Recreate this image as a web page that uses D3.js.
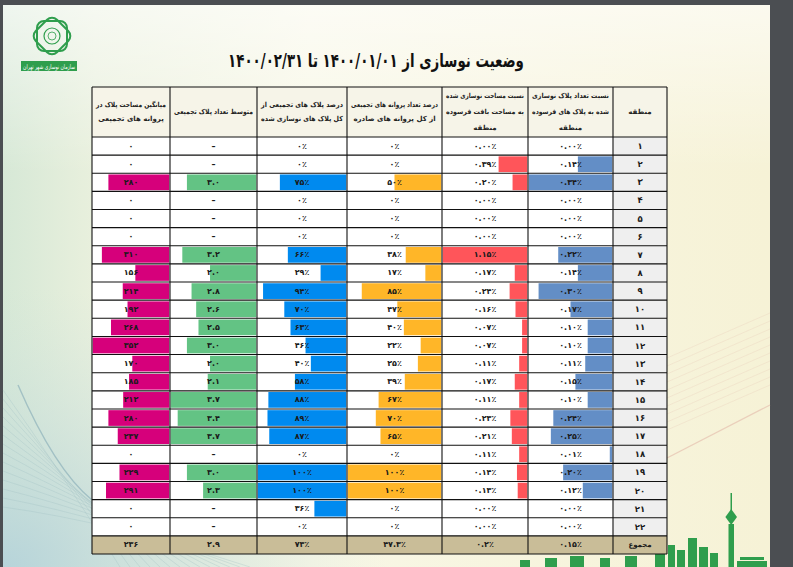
<!DOCTYPE html>
<html>
<head>
<meta charset="utf-8">
<script src="https://cdn.jsdelivr.net/npm/d3@7"></script>
<style>
  html, body { margin: 0; padding: 0; background: #4b4e52; }
  svg { display: block; }
  text { font-family: "DejaVu Sans", sans-serif; }
</style>
</head>
<body>
<div id="chart"></div>
<script>
// chart data (regions 1..22, then total row)
const regions = d3.range(1, 23);
const areaAvg = [0, 0, 280, 0, 0, 0, 310, 156, 214, 192, 268, 352, 170, 185, 212, 280, 237, 0, 229, 291, 0, 0];
const plaqueAvg = [null, null, 3.0, null, null, null, 3.2, 2.0, 2.8, 2.6, 2.5, 3.0, 2.0, 2.1, 3.7, 3.4, 3.7, null, 3.0, 2.3, null, null];
const plaquePct = [0, 0, 75, 0, 0, 0, 66, 29, 94, 70, 63, 46, 40, 58, 88, 89, 87, 0, 100, 100, 36, 0];
const permitPct = [0, 0, 50, 0, 0, 0, 38, 17, 85, 47, 40, 22, 25, 39, 67, 70, 65, 0, 100, 100, 0, 0];
const areaRatio = [0, 0.39, 0.20, 0, 0, 0, 1.15, 0.17, 0.24, 0.16, 0.07, 0.07, 0.11, 0.17, 0.11, 0.23, 0.21, 0.11, 0.14, 0.13, 0, 0];
const plaqueRatio = [0, 0.14, 0.34, 0, 0, 0, 0.22, 0.14, 0.30, 0.17, 0.10, 0.10, 0.11, 0.15, 0.10, 0.24, 0.25, 0.01, 0.20, 0.12, 0, 0];
const totals = ["236", "2.9", "73%", "47.3%", "0.2%", "0.15%"];
const totalLabel = "مجموع";

const headers = [
  ["میانگین مساحت پلاک در", "پروانه های تجمیعی"],
  ["متوسط تعداد پلاک تجمیعی"],
  ["درصد پلاک های تجمیعی از", "کل پلاک های نوسازی شده"],
  ["درصد تعداد پروانه های تجمیعی", "از کل پروانه های صادره"],
  ["نسبت مساحت نوسازی شده", "به مساحت بافت فرسوده", "منطقه"],
  ["نسبت تعداد پلاک نوسازی", "شده به پلاک های فرسوده", "منطقه"],
  ["منطقه"]
];
const title = "وضعیت نوسازی از ۱۴۰۰/۰۱/۰۱ تا ۱۴۰۰/۰۲/۳۱";

const W = 793, H = 567;
const fa = s => String(s).replace(/\d/g, d => "۰۱۲۳۴۵۶۷۸۹"[d]).replace(/%/g, "٪");

// text squeezed horizontally (keeps glyph height) so it fits maxW
function squeezed(parent, x, y, str, size, maxW, attrs) {
  const g = parent.append("g").attr("transform", `translate(${x},${y})`);
  const t = g.append("text")
    .attr("text-anchor", "middle").attr("dominant-baseline", "central")
    .attr("direction", "rtl").attr("font-size", size).attr("font-weight", "bold")
    .text(str);
  Object.entries(attrs || {}).forEach(([k, v]) => t.attr(k, v));
  const w = t.node().getComputedTextLength();
  const s = w > maxW ? maxW / w : 1;
  g.attr("transform", `translate(${x},${y}) scale(${s},1)`);
  return t;
}

// table layout
const colEdges = [92, 170, 257, 347, 442, 528, 613, 667];
const headTop = 87, headBottom = 137, tableBottom = 554;

const columns = [
  { values: areaAvg, color: "#D6007B", fmt: v => fa(d3.format("d")(v)) },
  { values: plaqueAvg, color: "#63C384", fmt: v => v == null ? "–" : fa(d3.format(".1f")(v)) },
  { values: plaquePct, color: "#008AEF", fmt: v => fa(v + "%") },
  { values: permitPct, color: "#FFB628", fmt: v => fa(v + "%") },
  { values: areaRatio, color: "#FF555A", fmt: v => fa(d3.format(".2f")(v) + "%") },
  { values: plaqueRatio, color: "#638EC6", fmt: v => fa(d3.format(".2f")(v) + "%") }
];

const svg = d3.select("#chart").append("svg")
  .attr("width", W)
  .attr("height", H);

// page background
const defs = svg.append("defs");
const bg = defs.append("linearGradient").attr("id", "bg").attr("x1", 0).attr("x2", 1).attr("y1", 0).attr("y2", 0);
bg.append("stop").attr("offset", "0%").attr("stop-color", "#d6e8d6");
bg.append("stop").attr("offset", "12%").attr("stop-color", "#e9f0dd");
bg.append("stop").attr("offset", "40%").attr("stop-color", "#f8f7e6");
bg.append("stop").attr("offset", "100%").attr("stop-color", "#f6f2d6");
const glow = defs.append("radialGradient").attr("id", "glow").attr("cx", 0).attr("cy", 1).attr("r", 0.5);
glow.append("stop").attr("offset", "0%").attr("stop-color", "#b5d3da").attr("stop-opacity", 0.95);
glow.append("stop").attr("offset", "100%").attr("stop-color", "#cfe3dc").attr("stop-opacity", 0);
const topFade = defs.append("linearGradient").attr("id", "topw").attr("x1", 0).attr("x2", 0).attr("y1", 0).attr("y2", 1);
topFade.append("stop").attr("offset", "0%").attr("stop-color", "#ffffff").attr("stop-opacity", 0.6);
topFade.append("stop").attr("offset", "30%").attr("stop-color", "#ffffff").attr("stop-opacity", 0);

svg.append("rect").attr("x", 0).attr("y", 0).attr("width", W).attr("height", H).attr("fill", "#4b4e52");
svg.append("rect").attr("x", 3).attr("y", 5).attr("width", 767).attr("height", H - 5).attr("fill", "url(#bg)");
svg.append("rect").attr("x", 3).attr("y", 5).attr("width", 767).attr("height", H - 5).attr("fill", "url(#glow)");
svg.append("rect").attr("x", 3).attr("y", 5).attr("width", 767).attr("height", H - 5).attr("fill", "url(#topw)");

// decorative curves bottom-left
const deco = svg.append("g").attr("fill", "none").attr("stroke", "#9fbfc4").attr("stroke-opacity", 0.45).attr("stroke-width", 0.7);
d3.range(14).forEach(i => {
  const p = d3.path();
  p.moveTo(3, 390 + i * 9);
  p.quadraticCurveTo(60 + i * 4, 470 + i * 4, 120 + i * 10, 567);
  deco.append("path").attr("d", p.toString());
});
const p0 = d3.path();
p0.moveTo(18, 385);
p0.quadraticCurveTo(55, 470, 92, 500);
deco.append("path").attr("d", p0.toString()).attr("stroke", "#8fb2bb").attr("stroke-width", 1.4).attr("stroke-opacity", 0.7);

// faint diagonal lines right
const deco2 = svg.append("g").attr("stroke", "#e3b8a8").attr("stroke-opacity", 0.35).attr("stroke-width", 0.6);
d3.range(10).forEach(i => {
  deco2.append("line").attr("x1", 667).attr("y1", 430 - i * 8).attr("x2", 770).attr("y2", 385 - i * 8);
});
deco2.append("line").attr("x1", 667).attr("y1", 458).attr("x2", 770).attr("y2", 405).attr("stroke-width", 1.3).attr("stroke-opacity", 0.6);

// skyline bottom-right
const sky = svg.append("g").attr("fill", "#2f9e4d");
sky.append("rect").attr("x", 730.5).attr("y", 493).attr("width", 1.5).attr("height", 25);
sky.append("path").attr("d", "M731.2,509 L737,517 L731.2,525 L725.4,517 Z");
sky.append("rect").attr("x", 728.5).attr("y", 524).attr("width", 5.5).attr("height", 43);
[[655, 552, 10, 15], [668, 545, 7, 22], [677, 550, 8, 17], [688, 538, 9, 29], [699, 547, 9, 20], [710, 553, 8, 14],
 [737, 561, 30, 6], [740, 557, 24, 3], [520, 560, 10, 7], [545, 558, 12, 9], [570, 556, 14, 11], [600, 558, 10, 9], [625, 556, 12, 11]]
  .forEach(b => sky.append("rect").attr("x", b[0]).attr("y", b[1]).attr("width", b[2]).attr("height", b[3]));

// logo
const logo = svg.append("g").attr("transform", "translate(52,36)");
[0, 45].forEach(a => logo.append("rect").attr("x", -15).attr("y", -15).attr("width", 30).attr("height", 30)
  .attr("fill", "none").attr("stroke", "#2f9e4d").attr("stroke-width", 2).attr("rx", 7)
  .attr("transform", `rotate(${a})`));
logo.append("circle").attr("r", 8).attr("fill", "none").attr("stroke", "#2f9e4d").attr("stroke-width", 1.2);
logo.append("circle").attr("r", 4).attr("fill", "none").attr("stroke", "#2f9e4d").attr("stroke-width", 0.8);
svg.append("rect").attr("x", 21).attr("y", 61).attr("width", 56).attr("height", 10).attr("fill", "#2f9e4d");
squeezed(svg, 49, 66.5, "سازمان نوسازی شهر تهران", 6.5, 52, { fill: "#ffffff", "font-weight": "normal" });

// title
squeezed(svg, 376, 61, title, 19, 296, { fill: "#111" });

// row scale
const y = d3.scaleBand().domain(d3.range(regions.length + 1)).range([headBottom, tableBottom]);

// header cells
const head = svg.append("g");
headers.forEach((lines, c) => {
  const x0 = colEdges[c], x1 = colEdges[c + 1];
  head.append("rect").attr("x", x0).attr("y", headTop).attr("width", x1 - x0).attr("height", headBottom - headTop)
    .attr("fill", "#f6f4e8");
  const lh = lines.length > 2 ? 16 : 14;
  const cy = (headTop + headBottom) / 2 - (lines.length - 1) * lh / 2;
  lines.forEach((t, i) => squeezed(head, (x0 + x1) / 2, cy + i * lh, t, 7, x1 - x0 - 8, { fill: "#222" }));
});

// body cells
const body = svg.append("g");
columns.forEach((col, c) => {
  const x0 = colEdges[c], x1 = colEdges[c + 1];
  const len = d3.scaleLinear().domain([0, d3.max(col.values, v => v || 0)]).range([0, x1 - x0 - 1.5]);
  const g = body.append("g");
  g.selectAll("rect.cell").data(col.values).enter().append("rect")
    .attr("class", "cell")
    .attr("x", x0).attr("y", (d, i) => y(i))
    .attr("width", x1 - x0).attr("height", y.bandwidth())
    .attr("fill", "#ffffff");
  g.selectAll("rect.bar").data(col.values).enter().append("rect")
    .attr("class", "bar")
    .attr("x", d => x1 - 0.75 - len(d || 0))
    .attr("y", (d, i) => y(i) + 1.2)
    .attr("width", d => len(d || 0))
    .attr("height", y.bandwidth() - 2.4)
    .attr("fill", col.color);
  g.selectAll("text").data(col.values).enter().append("text")
    .attr("x", (x0 + x1) / 2)
    .attr("y", (d, i) => y(i) + y.bandwidth() / 2)
    .attr("text-anchor", "middle").attr("dominant-baseline", "central")
    .attr("font-size", 8).attr("font-weight", "bold").attr("fill", "#1a1a1a")
    .text(col.fmt);
  // total row
  const ty = y(regions.length);
  g.append("rect").attr("x", x0).attr("y", ty).attr("width", x1 - x0).attr("height", y.bandwidth()).attr("fill", "#c9bd98");
  g.append("text").attr("x", (x0 + x1) / 2).attr("y", ty + y.bandwidth() / 2)
    .attr("text-anchor", "middle").attr("dominant-baseline", "central")
    .attr("font-size", 8).attr("font-weight", "bold").attr("fill", "#1a1a1a")
    .text(fa(totals[c]));
});

// region label column
const lx0 = colEdges[6], lx1 = colEdges[7];
const lab = body.append("g");
lab.selectAll("rect").data(regions).enter().append("rect")
  .attr("x", lx0).attr("y", (d, i) => y(i)).attr("width", lx1 - lx0).attr("height", y.bandwidth())
  .attr("fill", "#efefef");
lab.selectAll("text").data(regions).enter().append("text")
  .attr("x", (lx0 + lx1) / 2).attr("y", (d, i) => y(i) + y.bandwidth() / 2)
  .attr("text-anchor", "middle").attr("dominant-baseline", "central")
  .attr("font-size", 8.5).attr("font-weight", "bold").attr("fill", "#1a1a1a")
  .text(d => fa(d));
lab.append("rect").attr("x", lx0).attr("y", y(regions.length)).attr("width", lx1 - lx0).attr("height", y.bandwidth()).attr("fill", "#c9bd98");
lab.append("text").attr("x", (lx0 + lx1) / 2).attr("y", y(regions.length) + y.bandwidth() / 2)
  .attr("text-anchor", "middle").attr("dominant-baseline", "central").attr("direction", "rtl")
  .attr("font-size", 7).attr("font-weight", "bold").attr("fill", "#1a1a1a")
  .text(totalLabel);

// grid lines
const grid = svg.append("g").attr("stroke", "#111").attr("stroke-width", 1.1);
colEdges.forEach(x => grid.append("line").attr("x1", x).attr("x2", x).attr("y1", headTop).attr("y2", tableBottom));
[headTop, ...d3.range(regions.length + 1).map(i => y(i)), tableBottom].forEach(yy =>
  grid.append("line").attr("x1", colEdges[0]).attr("x2", colEdges[7]).attr("y1", yy).attr("y2", yy));
</script>
</body>
</html>
